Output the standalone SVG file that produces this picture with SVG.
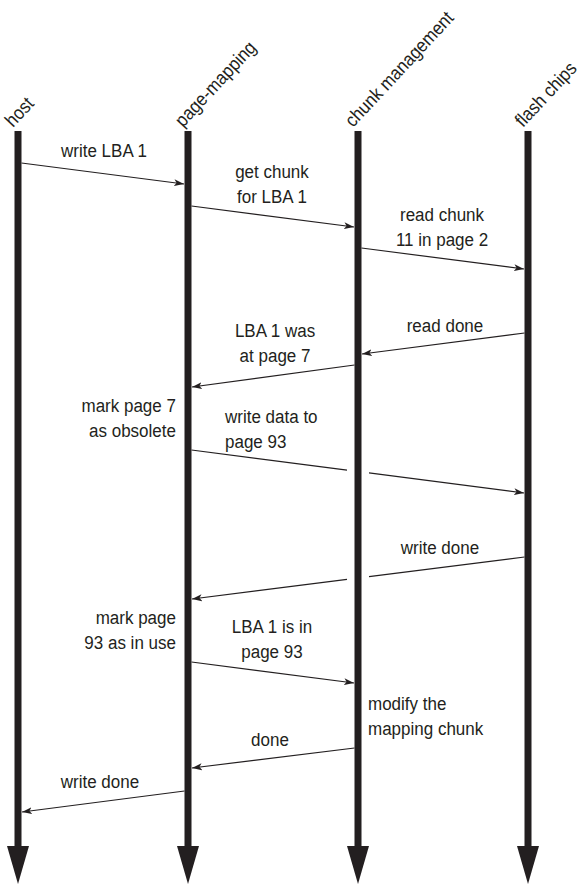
<svg xmlns="http://www.w3.org/2000/svg" width="585" height="884" viewBox="0 0 585 884">
  <style>
    .lifeline { stroke: #231f20; stroke-width: 7; fill: none; }
    .head { fill: #231f20; }
    .msg { stroke: #231f20; stroke-width: 1.2; fill: none; }
    .lbl { font-family: "Liberation Sans", Arial, sans-serif; font-size: 19px; fill: #231f20; }
    .mid { text-anchor: middle; }
    .end { text-anchor: end; }
    .title { font-family: "Liberation Sans", Arial, sans-serif; font-size: 19px; fill: #231f20; }
  </style>
  <defs>
    <marker id="arrow" markerUnits="userSpaceOnUse" markerWidth="12" markerHeight="8" refX="10" refY="4" orient="auto">
      <path d="M0,0.5 L10,4 L0,7.5 L2.5,4 Z" fill="#231f20"/>
    </marker>
  </defs>

  <rect width="585" height="884" fill="#ffffff"/>

  <!-- participants: slanted title, time line and arrowhead -->
  <g id="host">
    <text class="title" transform="translate(13,128) rotate(-47) scale(0.895,1)">host</text>
    <line class="lifeline" x1="18" y1="131" x2="18" y2="850"/>
    <polygon class="head" points="7,846 29,846 18,884"/>
  </g>
  <g id="page-mapping">
    <text class="title" transform="translate(183,128) rotate(-47) scale(0.895,1)">page-mapping</text>
    <line class="lifeline" x1="188" y1="131" x2="188" y2="850"/>
    <polygon class="head" points="177,846 199,846 188,884"/>
  </g>
  <g id="chunk-management">
    <text class="title" transform="translate(353,128) rotate(-47) scale(0.895,1)">chunk management</text>
    <line class="lifeline" x1="358" y1="131" x2="358" y2="850"/>
    <polygon class="head" points="347,846 369,846 358,884"/>
  </g>
  <g id="flash-chips">
    <text class="title" transform="translate(523,128) rotate(-47) scale(0.895,1)">flash chips</text>
    <line class="lifeline" x1="528" y1="131" x2="528" y2="850"/>
    <polygon class="head" points="517,846 539,846 528,884"/>
  </g>

  <!-- messages -->
  <g id="connectors">
    <line class="msg" x1="21.5" y1="163" x2="184" y2="184" marker-end="url(#arrow)"/>
    <line class="msg" x1="191.5" y1="206" x2="354" y2="227" marker-end="url(#arrow)"/>
    <line class="msg" x1="361.5" y1="248" x2="524" y2="269" marker-end="url(#arrow)"/>
    <line class="msg" x1="524.5" y1="333" x2="362" y2="354" marker-end="url(#arrow)"/>
    <line class="msg" x1="354.5" y1="365" x2="192" y2="387" marker-end="url(#arrow)"/>
    <!-- write data passes behind the chunk-management line -->
    <line class="msg" x1="191.5" y1="450" x2="347" y2="470.1"/>
    <line class="msg" x1="369" y1="472.9" x2="524" y2="493" marker-end="url(#arrow)"/>
    <!-- write done passes behind the chunk-management line -->
    <line class="msg" x1="524.5" y1="557" x2="369" y2="576.6"/>
    <line class="msg" x1="347" y1="579.4" x2="192" y2="599" marker-end="url(#arrow)"/>
    <line class="msg" x1="191.5" y1="662" x2="354" y2="683" marker-end="url(#arrow)"/>
    <line class="msg" x1="354.5" y1="748" x2="192" y2="768" marker-end="url(#arrow)"/>
    <line class="msg" x1="184.5" y1="791" x2="22" y2="812" marker-end="url(#arrow)"/>
  </g>

  <!-- message and action labels, set in a narrowed face (x values are pre-divided by 0.895) -->
  <g id="labels" transform="scale(0.895,1)">
    <text class="lbl mid" x="116.2" y="157">write LBA 1</text>
    <text class="lbl mid" x="303.9" y="178">get chunk</text>
    <text class="lbl mid" x="303.9" y="203">for LBA 1</text>
    <text class="lbl mid" x="493.9" y="221">read chunk</text>
    <text class="lbl mid" x="493.9" y="246">11 in page 2</text>
    <text class="lbl mid" x="497.2" y="332">read done</text>
    <text class="lbl mid" x="307.3" y="337">LBA 1 was</text>
    <text class="lbl mid" x="307.3" y="362">at page 7</text>
    <text class="lbl end" x="196.6" y="412">mark page 7</text>
    <text class="lbl end" x="196.6" y="437">as obsolete</text>
    <text class="lbl" x="251.4" y="423">write data to</text>
    <text class="lbl" x="251.4" y="448">page 93</text>
    <text class="lbl mid" x="491.6" y="554">write done</text>
    <text class="lbl end" x="196.6" y="624">mark page</text>
    <text class="lbl end" x="196.6" y="649">93 as in use</text>
    <text class="lbl mid" x="303.9" y="633">LBA 1 is in</text>
    <text class="lbl mid" x="303.9" y="658">page 93</text>
    <text class="lbl" x="411.2" y="710">modify the</text>
    <text class="lbl" x="411.2" y="735">mapping chunk</text>
    <text class="lbl mid" x="301.7" y="746">done</text>
    <text class="lbl mid" x="111.7" y="788">write done</text>
  </g>
</svg>
